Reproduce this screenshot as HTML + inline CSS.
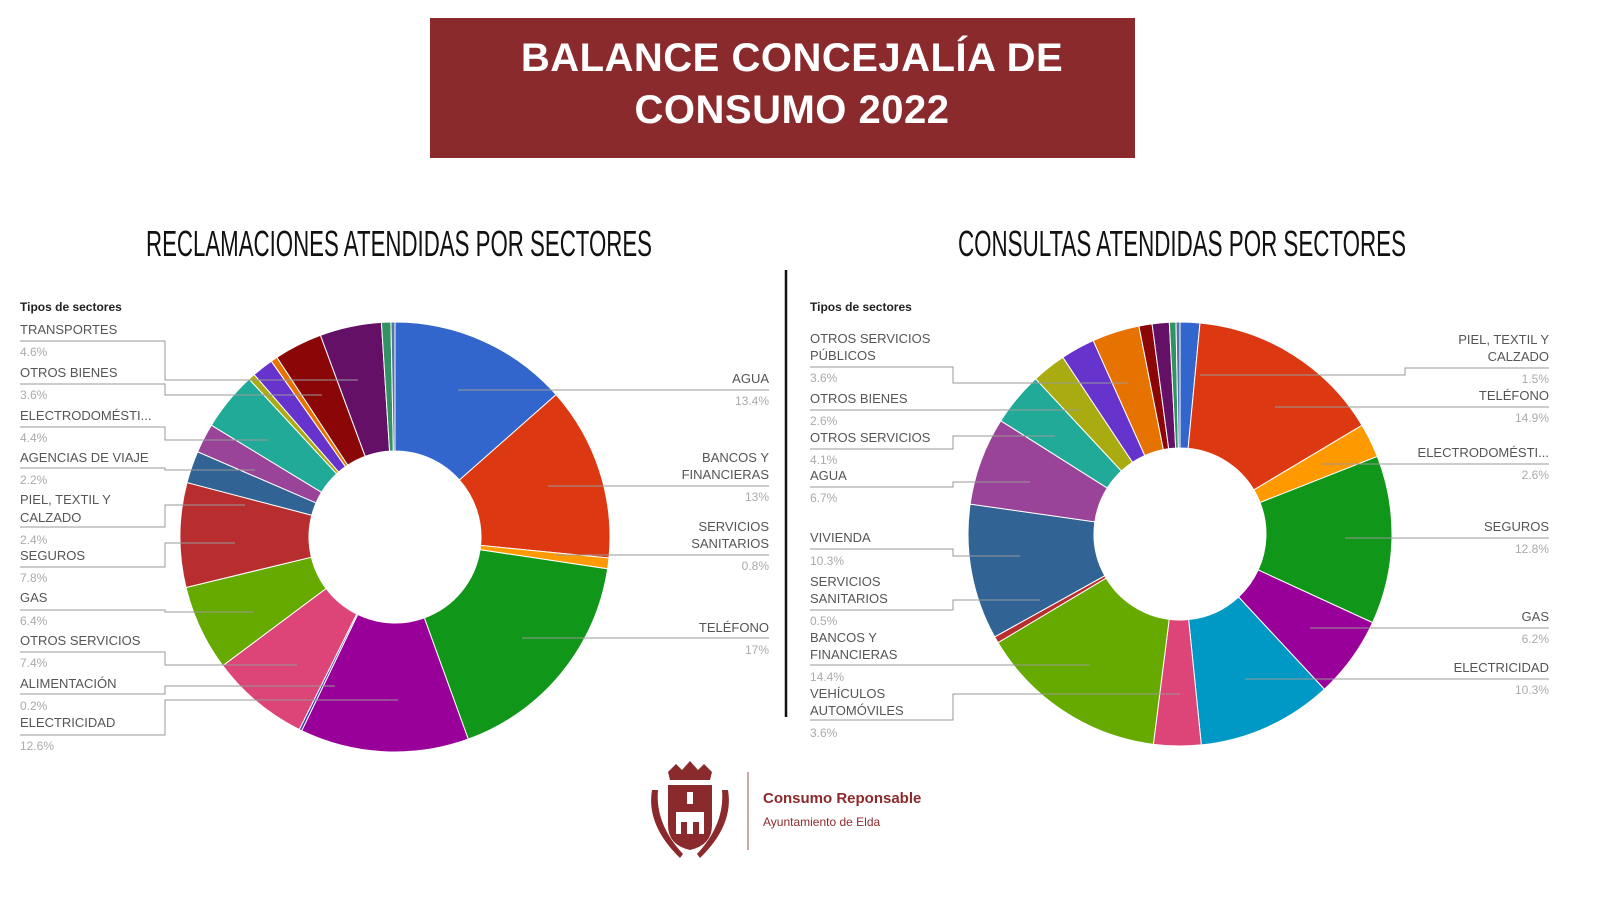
<!DOCTYPE html>
<html><head><meta charset="utf-8"><style>
html,body{margin:0;padding:0;background:#fff;}
svg{display:block;}
text{font-family:"Liberation Sans",sans-serif;}
.l{font-size:13px;fill:#555;}
.p{font-size:12px;fill:#aaa;}
.ln{stroke:#999;stroke-width:1;fill:none;}
</style></head><body>
<svg id="s" width="1600" height="900" viewBox="0 0 1600 900" xmlns="http://www.w3.org/2000/svg">
<rect x="0" y="0" width="1600" height="900" fill="#fff"/>
<rect x="430" y="18" width="705" height="140" fill="#8b2a2d"/>
<text x="792" y="71" text-anchor="middle" font-size="40" font-weight="bold" fill="#fff" letter-spacing="0.5">BALANCE CONCEJALÍA DE</text>
<text x="792" y="123" text-anchor="middle" font-size="40" font-weight="bold" fill="#fff" letter-spacing="0.5">CONSUMO 2022</text>
<text x="399" y="256" text-anchor="middle" font-size="36" fill="#111" textLength="506" lengthAdjust="spacingAndGlyphs">RECLAMACIONES ATENDIDAS POR SECTORES</text>
<text x="1182" y="256" text-anchor="middle" font-size="36" fill="#111" textLength="448" lengthAdjust="spacingAndGlyphs">CONSULTAS ATENDIDAS POR SECTORES</text>
<line x1="786" y1="270" x2="786" y2="717" stroke="#111" stroke-width="2.5"/>
<g id="pies"></g>
<text x="20" y="311" font-size="12" font-weight="bold" fill="#222">Tipos de sectores</text>
<text class="l" x="20" y="334">TRANSPORTES</text>
<text class="l" x="20" y="377">OTROS BIENES</text>
<text class="l" x="20" y="420">ELECTRODOMÉSTI...</text>
<text class="l" x="20" y="462">AGENCIAS DE VIAJE</text>
<text class="l" x="20" y="504">PIEL, TEXTIL Y</text>
<text class="l" x="20" y="522">CALZADO</text>
<text class="l" x="20" y="560">SEGUROS</text>
<text class="l" x="20" y="602">GAS</text>
<text class="l" x="20" y="645">OTROS SERVICIOS</text>
<text class="l" x="20" y="688">ALIMENTACIÓN</text>
<text class="l" x="20" y="727">ELECTRICIDAD</text>
<text class="p" x="20" y="356">4.6%</text>
<text class="p" x="20" y="399">3.6%</text>
<text class="p" x="20" y="442">4.4%</text>
<text class="p" x="20" y="484">2.2%</text>
<text class="p" x="20" y="544">2.4%</text>
<text class="p" x="20" y="582">7.8%</text>
<text class="p" x="20" y="625">6.4%</text>
<text class="p" x="20" y="667">7.4%</text>
<text class="p" x="20" y="710">0.2%</text>
<text class="p" x="20" y="750">12.6%</text>
<text class="l" x="769" y="383" text-anchor="end">AGUA</text>
<text class="p" x="769" y="405" text-anchor="end">13.4%</text>
<text class="l" x="769" y="462" text-anchor="end">BANCOS Y</text>
<text class="l" x="769" y="479" text-anchor="end">FINANCIERAS</text>
<text class="p" x="769" y="501" text-anchor="end">13%</text>
<text class="l" x="769" y="531" text-anchor="end">SERVICIOS</text>
<text class="l" x="769" y="548" text-anchor="end">SANITARIOS</text>
<text class="p" x="769" y="570" text-anchor="end">0.8%</text>
<text class="l" x="769" y="632" text-anchor="end">TELÉFONO</text>
<text class="p" x="769" y="654" text-anchor="end">17%</text>
<text x="810" y="311" font-size="12" font-weight="bold" fill="#222">Tipos de sectores</text>
<text class="l" x="810" y="343">OTROS SERVICIOS</text>
<text class="l" x="810" y="360">PÚBLICOS</text>
<text class="p" x="810" y="382">3.6%</text>
<text class="l" x="810" y="403">OTROS BIENES</text>
<text class="p" x="810" y="425">2.6%</text>
<text class="l" x="810" y="442">OTROS SERVICIOS</text>
<text class="p" x="810" y="464">4.1%</text>
<text class="l" x="810" y="480">AGUA</text>
<text class="p" x="810" y="502">6.7%</text>
<text class="l" x="810" y="542">VIVIENDA</text>
<text class="p" x="810" y="565">10.3%</text>
<text class="l" x="810" y="586">SERVICIOS</text>
<text class="l" x="810" y="603">SANITARIOS</text>
<text class="p" x="810" y="625">0.5%</text>
<text class="l" x="810" y="642">BANCOS Y</text>
<text class="l" x="810" y="659">FINANCIERAS</text>
<text class="p" x="810" y="681">14.4%</text>
<text class="l" x="810" y="698">VEHÍCULOS</text>
<text class="l" x="810" y="715">AUTOMÓVILES</text>
<text class="p" x="810" y="737">3.6%</text>
<text class="l" x="1549" y="344" text-anchor="end">PIEL, TEXTIL Y</text>
<text class="l" x="1549" y="361" text-anchor="end">CALZADO</text>
<text class="p" x="1549" y="383" text-anchor="end">1.5%</text>
<text class="l" x="1549" y="400" text-anchor="end">TELÉFONO</text>
<text class="p" x="1549" y="422" text-anchor="end">14.9%</text>
<text class="l" x="1549" y="457" text-anchor="end">ELECTRODOMÉSTI...</text>
<text class="p" x="1549" y="479" text-anchor="end">2.6%</text>
<text class="l" x="1549" y="531" text-anchor="end">SEGUROS</text>
<text class="p" x="1549" y="553" text-anchor="end">12.8%</text>
<text class="l" x="1549" y="621" text-anchor="end">GAS</text>
<text class="p" x="1549" y="643" text-anchor="end">6.2%</text>
<text class="l" x="1549" y="672" text-anchor="end">ELECTRICIDAD</text>
<text class="p" x="1549" y="694" text-anchor="end">10.3%</text>
<g id="lines"></g>
<g fill="#8b2a2d">
<path d="M668 772 l8 -8 l6 6 l8 -9 l8 9 l6 -6 l8 8 l-2 8 h-40z"/>
<path d="M668 785 h44 v40 q0 20 -22 25 q-22 -5 -22 -25z"/>
<path d="M652 790 q-6 35 28 68 l3 -4 q-28 -30 -25 -64z"/>
<path d="M728 790 q6 35 -28 68 l-3 -4 q28 -30 25 -64z"/>
</g>
<g fill="#fff"><rect x="676" y="812" width="28" height="22"/><rect x="687" y="792" width="6" height="12"/></g>
<g fill="#8b2a2d"><rect x="681" y="822" width="6" height="12"/><rect x="693" y="822" width="6" height="12"/></g>
<line x1="748" y1="772" x2="748" y2="850" stroke="#b58a8b" stroke-width="1.5"/>
<text x="763" y="803" font-size="15" font-weight="bold" fill="#8b2a2d">Consumo Reponsable</text>
<text x="763" y="826" font-size="12" fill="#8b2a2d">Ayuntamiento de Elda</text>
</svg>
<script>
var NS="http://www.w3.org/2000/svg";
function pie(cx,cy,R,r,data){
 var g=document.getElementById('pies');var tot=0;data.forEach(function(d){tot+=d[0]});
 var a=0;
 data.forEach(function(d){
  var a0=a/tot*2*Math.PI,a1=(a+d[0])/tot*2*Math.PI;a+=d[0];
  var large=(a1-a0)>Math.PI?1:0;
  function P(rr,t){return [cx+rr*Math.sin(t),cy-rr*Math.cos(t)];}
  var p1=P(R,a0),p2=P(R,a1),p3=P(r,a1),p4=P(r,a0);
  var path=document.createElementNS(NS,'path');
  path.setAttribute('d','M'+p1+' A'+R+' '+R+' 0 '+large+' 1 '+p2+' L'+p3+' A'+r+' '+r+' 0 '+large+' 0 '+p4+'Z');
  path.setAttribute('fill',d[1]);path.setAttribute('stroke','#fff');path.setAttribute('stroke-width','1');
  g.appendChild(path);
 });
}
pie(395,537,215,86,[[13.4,'#3366cc'],[13,'#dc3912'],[0.8,'#ff9900'],[17,'#109618'],[12.6,'#990099'],[0.2,'#3b3eac'],[7.4,'#dd4477'],[6.4,'#66aa00'],[7.8,'#b82e2e'],[2.4,'#316395'],[2.2,'#994499'],[4.4,'#22aa99'],[0.5,'#aaaa11'],[1.6,'#6633cc'],[0.5,'#e67300'],[3.6,'#8b0707'],[4.6,'#651067'],[0.7,'#329262'],[0.3,'#5574a6']]);
pie(1180,534,212,86,[[1.5,'#3366cc'],[14.9,'#dc3912'],[2.6,'#ff9900'],[12.8,'#109618'],[6.2,'#990099'],[10.3,'#0099c6'],[3.6,'#dd4477'],[14.4,'#66aa00'],[0.5,'#b82e2e'],[10.3,'#316395'],[6.7,'#994499'],[4.1,'#22aa99'],[2.6,'#aaaa11'],[2.6,'#6633cc'],[3.6,'#e67300'],[1,'#8b0707'],[1.3,'#651067'],[0.5,'#329262'],[0.3,'#5574a6']]);
var L=[
"20,341 165,341 165,380 358,380","20,384 165,384 165,395 322,395","20,427 165,427 165,440 268,440","20,468 165,468 165,470 255,470",
"20,527 165,527 165,505 245,505","20,567 165,567 165,543 235,543","20,610 165,610 165,612 253,612","20,652 165,652 165,665 297,665",
"20,694 165,694 165,686 335,686","20,735 165,735 165,700 398,700",
"769,390 458,390","769,486 548,486","769,555 556,555","769,638 522,638",
"810,367 953,367 953,383 1128,383","810,410 953,410 1080,410","810,449 953,449 953,436 1055,436","810,487 953,487 953,482 1030,482",
"810,549 953,549 953,556 1020,556","810,610 953,610 953,600 1040,600","810,665 1090,665","810,720 953,720 953,694 1180,694",
"1549,368 1405,368 1405,375 1200,375","1549,407 1275,407","1549,464 1322,464","1549,538 1345,538","1549,628 1310,628","1549,679 1245,679"];
var lg=document.getElementById('lines');
L.forEach(function(s){var p=document.createElementNS(NS,'polyline');p.setAttribute('points',s);p.setAttribute('class','ln');lg.appendChild(p);});
</script>
</body></html>
